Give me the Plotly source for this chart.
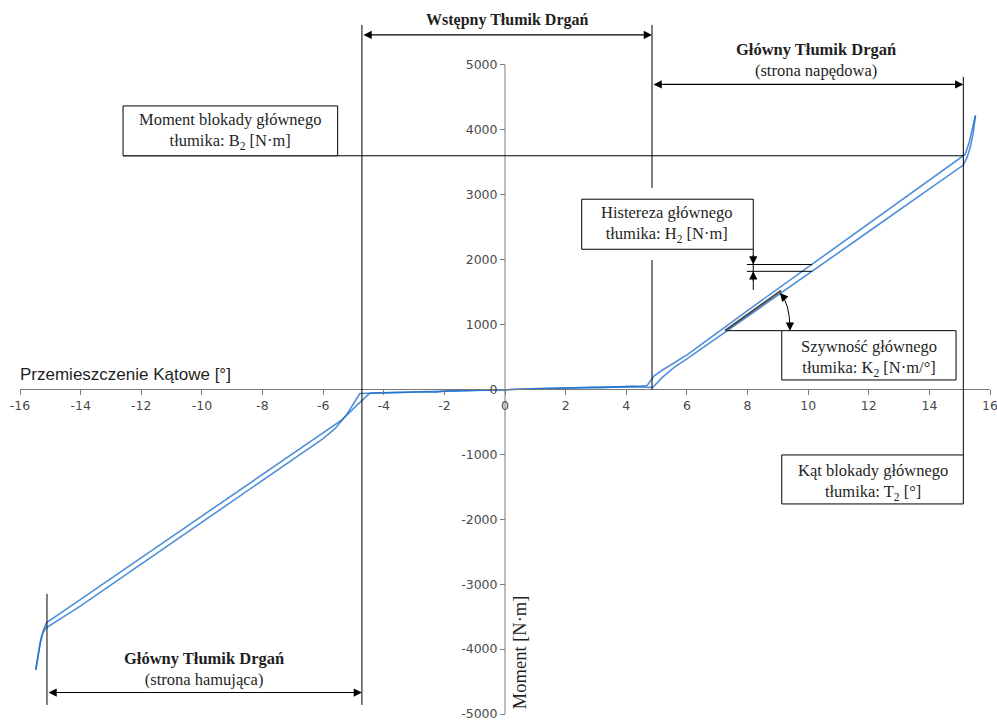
import plotly.graph_objects as go

# Torsional damper characteristic: torque vs. angular displacement (hysteresis loop)
# Upper branch (increasing angle) and lower branch (decreasing angle)
upper_deg = [-15.48, -15.40, -15.32, -15.22, -15.12, -14.0, -12.0, -10.0, -8.0, -6.0,
             -5.7, -5.38, -4.9, -4.46, -4.4, -3.8, -2.6, -2.3, -2.0, -0.8,
             0.0, 0.8, 1.6, 2.6, 2.9, 3.2, 4.2, 4.5, 4.69, 4.8,
             4.92, 5.2, 5.58, 6.04, 8.0, 10.0, 12.0, 14.0, 15.07, 15.18,
             15.31, 15.40, 15.52]
upper_nm = [-4320, -4060, -3860, -3700, -3590, -3233, -2589, -1945, -1301, -657,
            -560, -470, -250, -58, -56, -48, -36, -28, -26, -12,
            2, 12, 18, 26, 34, 32, 44, 52, 62, 140,
            210, 300, 415, 545, 1216, 1882, 2548, 3214, 3570, 3620,
            3800, 3985, 4220]

lower_deg = [-15.48, -15.42, -15.34, -15.26, -15.16, -14.0, -12.0, -10.0, -8.0, -6.0,
             -5.6, -5.2, -4.79, -4.4, -3.8, -2.6, -2.3, -2.0, -0.8, 0.0,
             0.8, 1.6, 2.6, 2.9, 3.2, 4.2, 4.6, 4.87, 5.2, 5.58,
             6.0, 8.0, 10.0, 12.0, 14.0, 15.12, 15.24, 15.35, 15.45, 15.52]
lower_nm = [-4320, -4130, -3930, -3770, -3680, -3333, -2689, -2045, -1401, -757,
            -600, -370, -62, -56, -48, -36, -44, -26, -12, -8,
            12, 18, 26, 20, 32, 44, 36, 30, 190, 340,
            470, 1121, 1777, 2433, 3089, 3457, 3570, 3730, 3960, 4220]

x_ticks = [-16, -14, -12, -10, -8, -6, -4, -2, 0, 2, 4, 6, 8, 10, 12, 14, 16]
x_tick_text = ["-16", "-14", "-12", "-10", "-8", "-6", "-4", "-2", "0",
               "2", "4", "6", "8", "10", "12", "14", "16"]
y_ticks = [-5000, -4000, -3000, -2000, -1000, 0, 1000, 2000, 3000, 4000, 5000]
y_tick_text = ["-5000", "-4000", "-3000", "-2000", "-1000", "0",
               "1000", "2000", "3000", "4000", "5000"]

# Characteristic points of the damper
pre_end_neg = -4.72      # end of pre-damper travel (braking side)
pre_end_pos = 4.85       # end of pre-damper travel (drive side)
block_neg = -15.11       # main damper stop angle (braking side)
block_pos = 15.12        # main damper stop angle T2 (drive side)
block_torque = 3600      # main damper stop torque B2
hyst_angle = 10.13       # where hysteresis H2 is marked
hyst_hi = 1925
hyst_lo = 1820

X_RANGE = [-16, 16]
Y_RANGE = [-5000, 6000]

SERIF = "Liberation Serif"
TXT = "#1f1f1f"
AXC = "#7a7a7a"
LINE_BLUE = "rgba(20,105,205,0.75)"

fig = go.Figure()
for xs, ys in ((upper_deg, upper_nm), (lower_deg, lower_nm)):
    fig.add_trace(go.Scatter(x=xs, y=ys, mode="lines",
                             line=dict(color=LINE_BLUE, width=1.6),
                             hoverinfo="skip", showlegend=False))

shapes = []


def seg(x0, y0, x1, y1, color="black", width=1):
    shapes.append(dict(type="line", xref="x", yref="y", x0=x0, y0=y0, x1=x1, y1=y1,
                       line=dict(color=color, width=width), layer="above"))


def box(x0, y0, x1, y1):
    shapes.append(dict(type="rect", xref="x", yref="y", x0=x0, y0=y0, x1=x1, y1=y1,
                       line=dict(color="black", width=1), fillcolor="white", layer="above"))


# vertical axis line (only over the labelled torque range)
shapes.append(dict(type="line", xref="x", yref="y", x0=0, x1=0, y0=-5000, y1=5000,
                   line=dict(color=AXC, width=1), layer="below"))

# range boundaries
seg(pre_end_neg, 5616, pre_end_neg, -4861)
seg(pre_end_pos, 5616, pre_end_pos, 3105)
seg(pre_end_pos, 1995, pre_end_pos, 0)
seg(block_pos, 4815, block_pos, -1009)
seg(block_neg, -3150, block_neg, -4861)
seg(-12.6, block_torque, block_pos, block_torque)

# hysteresis marker
seg(8.19, 2160, 8.19, 1533)
seg(7.98, hyst_hi, hyst_angle, hyst_hi)
seg(7.98, hyst_lo, hyst_angle, hyst_lo)

# stiffness marker
seg(7.26, 906, 9.13, 906)
seg(7.26, 906, 9.11, 1525, color="#4d4d4d", width=2)
shapes.append(dict(type="path", xref="x", yref="y",
                   path="M 9.07,1487 Q 9.40,1333 9.40,925",
                   line=dict(color="black", width=1), layer="above"))

# label boxes
box(-12.6, 4368, -5.52, block_torque)
box(2.53, 2931, 8.19, 2160)
box(9.13, 906, 14.88, 146)
box(9.13, -1009, block_pos, -1764)

annotations = []


def label(x, y, text, size=16.5, **kw):
    annotations.append(dict(x=x, y=y, xref="x", yref="y", text=text, showarrow=False,
                            font=dict(family=SERIF, size=size, color=TXT), **kw))


def span_arrow(x0, x1, y):
    annotations.append(dict(x=x1, y=y, ax=x0, ay=y, xref="x", yref="y", axref="x", ayref="y",
                            text="", showarrow=True, arrowhead=2, startarrowhead=2,
                            arrowside="end+start", arrowsize=1.5, arrowwidth=1.1,
                            arrowcolor="black"))


def head(x, y, ax, ay):
    annotations.append(dict(x=x, y=y, ax=ax, ay=ay, xref="x", yref="y",
                            text="", showarrow=True, arrowhead=2, arrowsize=1.5,
                            arrowwidth=1.1, arrowcolor="black"))


span_arrow(pre_end_neg, pre_end_pos, 5462)
span_arrow(pre_end_pos, block_pos, 4700)
span_arrow(block_neg, pre_end_neg, -4669)
head(8.19, hyst_hi, 0, -11)
head(8.19, hyst_lo, 0, 11)
head(9.07, 1487, 6, 7)
head(9.40, 906, 0, -10)

label(0.07, 5693, "<b>Wstępny Tłumik Drgań</b>", size=16)
label(10.26, 5080, "<b>Główny Tłumik Drgań</b><br>(strona napędowa)")
label(-9.93, -4305, "<b>Główny Tłumik Drgań</b><br>(strona hamująca)")
label(-9.07, 3983, "Moment blokady głównego<br>tłumika: B<sub>2</sub> [N·m]")
label(5.36, 2550, "Histereza głównego<br>tłumika: H<sub>2</sub> [N·m]")
label(12.0, 485, "Szywność głównego<br>tłumika: K<sub>2</sub> [N·m/°]")
label(12.13, -1425, "Kąt blokady głównego<br>tłumika: T<sub>2</sub> [°]")

# axis titles
annotations.append(dict(x=-0.002, y=223, xref="paper", yref="y", xanchor="left",
                        text="Przemieszczenie Kątowe [°]", showarrow=False,
                        font=dict(family="Liberation Sans", size=17, color=TXT)))
annotations.append(dict(x=0.5, y=-4045, xref="x", yref="y", textangle=-90,
                        text="Moment [N·m]", showarrow=False,
                        font=dict(family=SERIF, size=18.5, color=TXT)))

tick_font = dict(family="DejaVu Sans", size=12.5, color="#4a4a4a")

fig.update_layout(
    width=997, height=721,
    margin=dict(l=20, r=7, t=0, b=7),
    paper_bgcolor="white", plot_bgcolor="white",
    xaxis=dict(range=X_RANGE, tickmode="array", tickvals=x_ticks, ticktext=x_tick_text,
               ticks="outside", ticklen=5, tickcolor=AXC, showline=True, linecolor=AXC,
               linewidth=1, showgrid=False, zeroline=False, anchor="free",
               position=(0 - Y_RANGE[0]) / (Y_RANGE[1] - Y_RANGE[0]),
               tickfont=tick_font, ticklabeloverflow="allow"),
    yaxis=dict(range=Y_RANGE, tickmode="array", tickvals=y_ticks, ticktext=y_tick_text,
               ticks="outside", ticklen=5, tickcolor=AXC, showline=False,
               showgrid=False, zeroline=False, anchor="free",
               position=(0 - X_RANGE[0]) / (X_RANGE[1] - X_RANGE[0]),
               tickfont=tick_font, ticklabeloverflow="allow"),
    shapes=shapes,
    annotations=annotations,
)

fig.write_html("out.html")
